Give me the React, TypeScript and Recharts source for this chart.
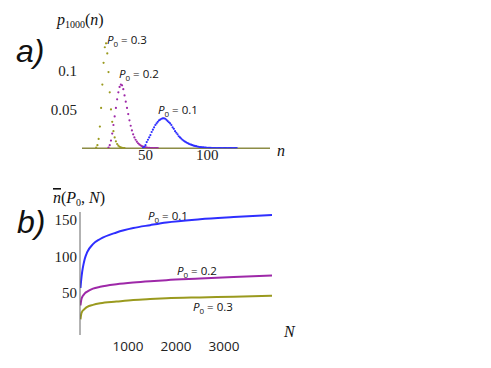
import { ScatterChart, Scatter, LineChart, Line, XAxis, YAxis } from 'recharts'

// panel a: p_1000(n), one value per integer n starting at the given n
const nTicks = [50, 100]
const pTicks = [0.05, 0.1]
const p03Start = 10
const p03 = [
  0.001, 0.004, 0.012, 0.028, 0.052, 0.082, 0.11, 0.13, 0.135, 0.122, 0.098, 0.072, 0.05, 0.034,
  0.022, 0.014, 0.009, 0.0055, 0.0034, 0.002, 0.0012, 0.0007, 0.0004, 0.0002,
]
const p02Start = 20
const p02 = [
  0.001, 0.004, 0.01, 0.019, 0.03, 0.041, 0.052, 0.063, 0.072, 0.079, 0.082, 0.081, 0.076, 0.068,
  0.06, 0.052, 0.044, 0.036, 0.029, 0.023, 0.018, 0.014, 0.011, 0.0085, 0.0065, 0.005, 0.0038,
  0.0029, 0.0022, 0.0016, 0.0012, 0.0009, 0.0007, 0.0005, 0.0004, 0.0003, 0.0002, 0.0002, 0.0001,
  0.0001, 0.0001,
]
const p01Start = 48
const p01 = [
  0.0005, 0.002, 0.004, 0.008, 0.011, 0.014, 0.017, 0.021, 0.024, 0.027, 0.03, 0.032, 0.034, 0.036,
  0.037, 0.038, 0.0386, 0.0385, 0.038, 0.0366, 0.035, 0.0335, 0.032, 0.03, 0.027, 0.025, 0.022, 0.02,
  0.018, 0.0155, 0.014, 0.0125, 0.011, 0.0097, 0.0087, 0.0077, 0.0068, 0.006, 0.0052, 0.0046, 0.004,
  0.0035, 0.003, 0.0027, 0.0023, 0.002, 0.0017, 0.0015, 0.0013, 0.0011, 0.0009, 0.0008, 0.0007,
  0.0006, 0.0005, 0.0005, 0.0004, 0.0004, 0.0003, 0.0003, 0.0003, 0.0002, 0.0002, 0.0002, 0.0002,
  0.0001, 0.0001, 0.0001, 0.0001, 0.0001, 0.0001, 0.0001, 0.0001, 0.0001, 0.0001, 0.0001, 0.0001,
]

// panel b: mean n vs N
const NTicks = [1000, 2000, 3000]
const nbarTicks = [50, 100, 150]
const Ngrid = [10, 25, 45, 75, 100, 150, 270, 420, 760, 1110, 1460, 1800, 2500, 3200, 4000]
const nbar01 = [57, 68, 79, 90, 97, 106, 117, 124, 133, 139, 143, 146.6, 151, 154, 157]
const nbar02 = [33, 40, 44.5, 47.5, 49.5, 52, 56, 58.5, 62, 64.4, 66.2, 67.6, 69.8, 72, 74]
const nbar03 = [14, 21, 24.5, 27, 28.5, 31, 33.8, 36, 38.3, 40.5, 41.8, 42.8, 44, 45, 46.4]

const BLUE = '#2e2eff'
const PURPLE = '#9e28a8'
const OLIVE = '#9a9a1e'

const toPoints = (start: number, vals: number[]) => vals.map((p, i) => ({ n: start + i, p }))
const toLine = (vals: number[]) => Ngrid.map((N, i) => ({ N, v: vals[i] }))

const dot = (color: string) => (props: any) => (
  <circle cx={props.cx} cy={props.cy} r={1.1} fill={color} />
)

const serif = '"Liberation Serif", "Times New Roman", serif'
const sans = '"Open Sans", "Noto Sans", sans-serif'

const PLabel = ({ x, y, value }: { x: number; y: number; value: string }) => (
  <text x={x} y={y} fontFamily={sans} fontSize={11.5} fill="#111">
    <tspan fontStyle="italic">P</tspan>
    <tspan fontSize={8} dy={3}>0</tspan>
    <tspan dy={-3}>{' = ' + value}</tspan>
  </text>
)

export default function App() {
  return (
    <div style={{ position: 'absolute', left: 0, top: 0, width: 491, height: 368, background: '#fff' }}>
      <div style={{ position: 'absolute', left: 0, top: 0 }}>
        <ScatterChart width={300} height={175} margin={{ top: 31.7, right: 30, bottom: 6.7, left: 0 }}>
          <XAxis
            type="number"
            dataKey="n"
            domain={[-1.5, 151]}
            ticks={nTicks}
            allowDataOverflow
            height={20}
            tickLine={false}
            tickSize={0}
            tickMargin={1}
            axisLine={{ stroke: '#8c8c45', strokeWidth: 1.5 }}
            tick={{ fontSize: 15, fill: '#222', fontFamily: serif }}
          />
          <YAxis
            type="number"
            dataKey="p"
            domain={[0, 0.15]}
            ticks={pTicks}
            allowDataOverflow
            width={82}
            axisLine={false}
            tickLine={false}
            tickSize={0}
            tickMargin={5}
            tick={{ fontSize: 15, fill: '#222', fontFamily: serif }}
          />
          <Scatter data={toPoints(p03Start, p03)} fill={OLIVE} shape={dot(OLIVE)} isAnimationActive={false} />
          <Scatter data={toPoints(p02Start, p02)} fill={PURPLE} shape={dot(PURPLE)} isAnimationActive={false} />
          <Scatter data={toPoints(p01Start, p01)} fill={BLUE} shape={dot(BLUE)} isAnimationActive={false} />
        </ScatterChart>
      </div>

      <div style={{ position: 'absolute', left: 0, top: 175 }}>
        <LineChart width={300} height={193} margin={{ top: 37, right: 28, bottom: 8, left: 0 }}>
          <XAxis
            type="number"
            dataKey="N"
            domain={[0, 4000]}
            ticks={NTicks}
            allowDataOverflow
            height={25}
            axisLine={false}
            tickLine={false}
            tickSize={0}
            tickMargin={6}
            tick={{ fontSize: 13.5, fill: '#222', fontFamily: sans }}
          />
          <YAxis
            type="number"
            dataKey="v"
            domain={[-7.5, 161]}
            ticks={nbarTicks}
            allowDataOverflow
            width={80}
            axisLine={{ stroke: '#666', strokeWidth: 1 }}
            tickLine={false}
            tickSize={0}
            tickMargin={3}
            tick={{ fontSize: 15, fill: '#222', fontFamily: serif }}
          />
          <Line data={toLine(nbar01)} dataKey="v" type="monotone" stroke={BLUE} strokeWidth={2} dot={false} isAnimationActive={false} />
          <Line data={toLine(nbar02)} dataKey="v" type="monotone" stroke={PURPLE} strokeWidth={2} dot={false} isAnimationActive={false} />
          <Line data={toLine(nbar03)} dataKey="v" type="monotone" stroke={OLIVE} strokeWidth={2} dot={false} isAnimationActive={false} />
        </LineChart>
      </div>

      <svg width={491} height={368} style={{ position: 'absolute', left: 0, top: 0, pointerEvents: 'none' }}>
        <text x={16} y={62} fontFamily='"Liberation Sans", Arial, sans-serif' fontStyle="italic" fontSize={32} fill="#111">a)</text>
        <text x={17} y={233} fontFamily='"Liberation Sans", Arial, sans-serif' fontStyle="italic" fontSize={32} fill="#111">b)</text>

        <text x={57} y={25} fontFamily={serif} fontSize={16} fill="#111">
          <tspan fontStyle="italic">p</tspan>
          <tspan fontSize={10} dy={3}>1000</tspan>
          <tspan dy={-3}>(</tspan>
          <tspan fontStyle="italic">n</tspan>
          <tspan>)</tspan>
        </text>
        <text x={277} y={156} fontFamily={serif} fontStyle="italic" fontSize={16} fill="#111">n</text>

        <text x={53} y={203} fontFamily={serif} fontSize={16} fill="#111">
          <tspan fontStyle="italic" style={{ textDecoration: 'overline' }}>n</tspan>
          <tspan>(</tspan>
          <tspan fontStyle="italic">P</tspan>
          <tspan fontSize={10} dy={3}>0</tspan>
          <tspan dy={-3}>, </tspan>
          <tspan fontStyle="italic">N</tspan>
          <tspan>)</tspan>
        </text>
        <text x={284} y={337} fontFamily={serif} fontStyle="italic" fontSize={16} fill="#111">N</text>

        <PLabel x={107} y={44} value="0.3" />
        <PLabel x={119} y={78} value="0.2" />
        <PLabel x={158} y={114} value="0.1" />

        <PLabel x={148} y={220} value="0.1" />
        <PLabel x={177} y={275} value="0.2" />
        <PLabel x={193} y={311} value="0.3" />
      </svg>
    </div>
  )
}
